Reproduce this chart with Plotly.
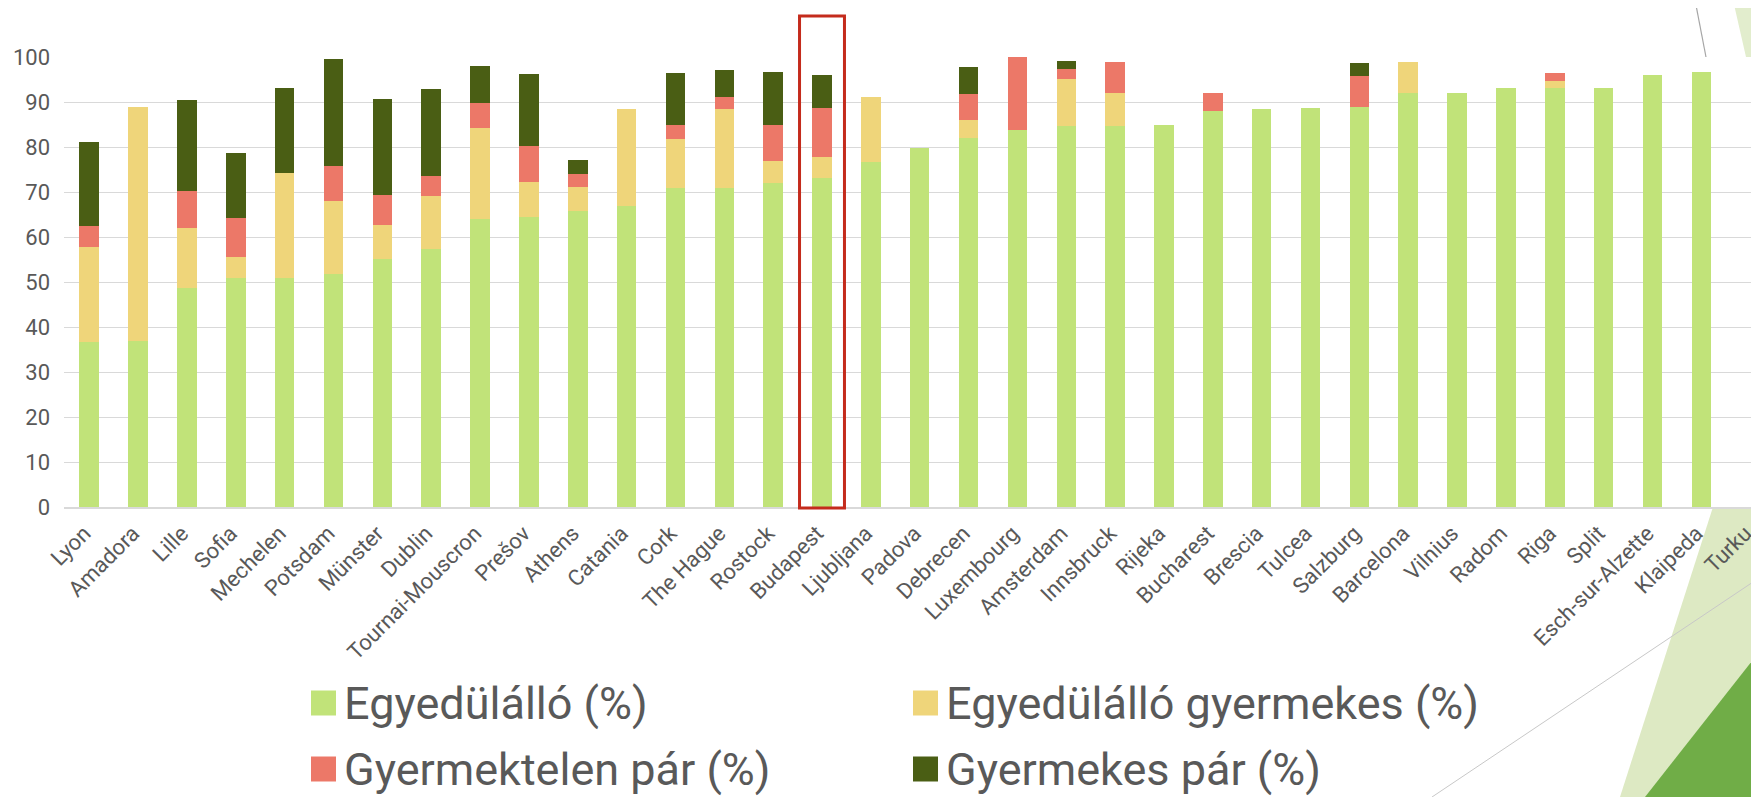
import plotly.graph_objects as go

# háztartás-összetétel városonként (%)
cities = ["Lyon", "Amadora", "Lille", "Sofia", "Mechelen", "Potsdam", "Münster", "Dublin",
          "Tournai-Mouscron", "Prešov", "Athens", "Catania", "Cork", "The Hague", "Rostock",
          "Budapest", "Ljubljana", "Padova", "Debrecen", "Luxembourg", "Amsterdam", "Innsbruck",
          "Rijeka", "Bucharest", "Brescia", "Tulcea", "Salzburg", "Barcelona", "Vilnius", "Radom",
          "Riga", "Split", "Esch-sur-Alzette", "Klaipeda", "Turku"]

egyedulallo = [36.7, 37.0, 48.6, 50.8, 51.0, 51.8, 55.1, 57.3, 64.0, 64.5, 65.8, 66.8, 70.9, 70.9,
               71.9, 73.1, 76.7, 79.8, 82.0, 83.7, 84.7, 84.7, 85.0, 88.0, 88.5, 88.7, 88.9, 91.9,
               92.1, 93.1, 93.1, 93.2, 95.9, 96.6, None]
egyedulallo_gyermekes = [21.0, 51.8, 13.3, 4.8, 23.3, 16.3, 7.6, 11.8, 20.3, 7.7, 5.3, 21.6, 10.8, 17.5,
                         5.1, 4.6, 14.5, 0, 4.0, 0, 10.5, 7.2, 0, 0, 0, 0, 0, 7.0,
                         0, 0, 1.5, 0, 0, 0, None]
gyermektelen_par = [4.7, 0, 8.3, 8.6, 0, 7.7, 6.6, 4.5, 5.4, 8.1, 2.9, 0, 3.3, 2.7,
                    8.0, 10.9, 0, 0, 5.7, 16.2, 2.2, 7.0, 0, 3.9, 0, 0, 6.8, 0,
                    0, 0, 1.9, 0, 0, 0, None]
gyermekes_par = [18.7, 0, 20.3, 14.5, 18.9, 23.7, 21.4, 19.3, 8.3, 16.0, 3.1, 0, 11.4, 6.0,
                 11.6, 7.3, 0, 0, 6.0, 0, 1.7, 0, 0, 0, 0, 0, 2.9, 0,
                 0, 0, 0, 0, 0, 0, None]

series_names = ["Egyedülálló (%)", "Egyedülálló gyermekes (%)", "Gyermektelen pár (%)", "Gyermekes pár (%)"]
series_values = [egyedulallo, egyedulallo_gyermekes, gyermektelen_par, gyermekes_par]
series_colors = ["#c1e379", "#efd57a", "#ec7868", "#4a5e14"]
highlight_city = "Budapest"

# page is offset by the 8px body margin, so work in page pixels and convert
OFF = 8
W, H = 1759 - OFF, 797 - OFF
M_L, M_R, M_T, M_B = 56, 0, 49, 290
FONT = "Roboto, Lato, 'DejaVu Sans', sans-serif"
GREY = "#595959"


def paper_x(px):
    return (px - OFF - M_L) / (W - M_L - M_R)


def paper_y(py):
    return (H - M_B - (py - OFF)) / (H - M_T - M_B)


def poly(points, color):
    path = "M " + " L ".join(f"{paper_x(x):.5f},{paper_y(y):.5f}" for x, y in points) + " Z"
    return dict(type="path", xref="paper", yref="paper", path=path, fillcolor=color,
                line=dict(width=0), layer="below")


def seg(p0, p1, color, width):
    return dict(type="line", xref="paper", yref="paper", x0=paper_x(p0[0]), y0=paper_y(p0[1]),
                x1=paper_x(p1[0]), y1=paper_y(p1[1]), line=dict(color=color, width=width), layer="below")


fig = go.Figure()
for name, vals, col in zip(series_names, series_values, series_colors):
    fig.add_bar(x=cities, y=vals, name=name, marker=dict(color=col, line=dict(width=0)), showlegend=False)

# slide decoration behind the chart
shapes = [
    poly([(1733, 0), (1759, 0), (1759, 57), (1746, 57)], "#e2edcd"),
    poly([(1753, 0), (1759, 0), (1759, 7)], "#70ad47"),
    seg((1695, 0), (1706, 57), "#a6a6a6", 1.2),
    poly([(1713, 507), (1759, 507), (1759, 797), (1620, 797)], "#dde9c3"),
    poly([(1759, 652), (1759, 797), (1645, 797)], "#70ad47"),
    seg((1432, 797), (1759, 578), "#c8c8c8", 1),
    dict(type="rect", xref="paper", yref="paper", x0=0, y0=0, x1=1, y1=1,
         fillcolor="white", line=dict(width=0), layer="below"),
]

# highlight box
hi = cities.index(highlight_city)
shapes.append(dict(type="rect", xref="x", yref="paper", x0=hi - 0.46, x1=hi + 0.46,
                   y0=paper_y(508), y1=paper_y(16), line=dict(color="#c42b1c", width=3),
                   fillcolor="rgba(0,0,0,0)", layer="above"))

# legend (2 x 2)
annotations = []
leg_cols = [311, 913]
leg_rows = [703, 769]
for i, (name, col) in enumerate(zip(series_names, series_colors)):
    sx = leg_cols[i % 2]
    sy = leg_rows[i // 2]
    shapes.append(dict(type="rect", xref="paper", yref="paper",
                       x0=paper_x(sx), x1=paper_x(sx + 25), y0=paper_y(sy + 12.5), y1=paper_y(sy - 12.5),
                       fillcolor=col, line=dict(width=0)))
    annotations.append(dict(xref="paper", yref="paper", x=paper_x(sx + 31), y=paper_y(sy),
                            xanchor="left", yanchor="middle", showarrow=False, text=name,
                            font=dict(family=FONT, size=45, color=GREY)))

fig.update_layout(
    width=W, height=H,
    margin=dict(l=M_L, r=M_R, t=M_T, b=M_B, autoexpand=False),
    barmode="stack", bargap=0.6,
    paper_bgcolor="white", plot_bgcolor="white",
    font=dict(family=FONT, color=GREY),
    shapes=shapes, annotations=annotations,
)
fig.update_xaxes(type="category", range=[-0.516, 34.18], tickangle=-45,
                 tickfont=dict(size=22, color=GREY), showline=True, linecolor="#d9d9d9",
                 linewidth=1.5, showgrid=False, ticks="", ticklabelstandoff=3, ticklabelshift=-5)
fig.update_yaxes(range=[0, 100], dtick=10, tickfont=dict(size=22, color=GREY),
                 showgrid=True, gridcolor="#d9d9d9", gridwidth=1.3, zeroline=False,
                 ticklabelstandoff=13, fixedrange=True)

fig.write_html("out.html")
